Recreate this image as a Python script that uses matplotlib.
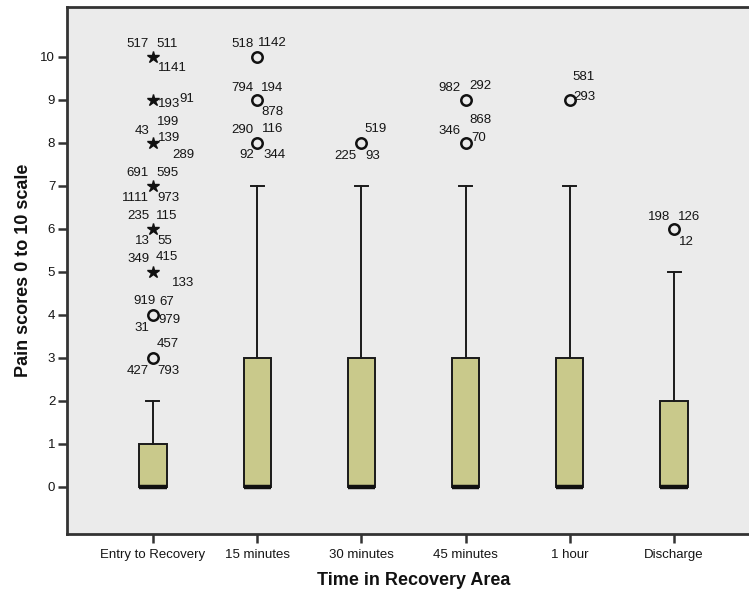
import matplotlib
matplotlib.use("Agg")
import matplotlib.pyplot as plt
import numpy as np

# ---------------- data ----------------
categories = ["Entry to Recovery", "15 minutes", "30 minutes", "45 minutes", "1 hour", "Discharge"]
q1 = [0, 0, 0, 0, 0, 0]
median = [0, 0, 0, 0, 0, 0]
q3 = [1, 3, 3, 3, 3, 2]
whisker_low = [0, 0, 0, 0, 0, 0]
whisker_high = [2, 7, 7, 7, 7, 5]

# outliers (circles) and extremes (stars) per category
outliers = [[3, 4], [8, 9, 10], [8], [8, 9], [9], [6]]
extremes = [[5, 6, 7, 8, 9, 10], [], [], [], [], []]

# case-number labels for each outlier/extreme point (in the order: outliers then extremes)
case_labels = [
    [["427", "793", "457"], ["31", "979", "919", "67"],
     ["349", "415", "133"], ["235", "115", "13", "55"], ["691", "595", "1111", "973"],
     ["199", "43", "139", "289"], ["193", "91"], ["517", "511", "1141"]],
    [["290", "116", "92", "344"], ["794", "194", "878"], ["518", "1142"]],
    [["519", "225", "93"]],
    [["868", "346", "70"], ["982", "292"]],
    [["581", "293"]],
    [["198", "126", "12"]],
]

# ---------------- layout (pixel offsets of labels from their point) ----------------
label_offsets = [
    [[(-15, -13), (15, -13), (15, 14)], [(-11, -13), (16, -5), (-8, 14), (14, 13)],
     [(-14, 13), (14, 15), (30, -11)], [(-15, 13), (14, 13), (-11, -12), (12, -12)],
     [(-15, 13), (14, 13), (-18, -12), (15, -12)],
     [(15, 21), (-11, 12), (16, 5), (30, -12)], [(16, -4), (34, 1)],
     [(-15, 13), (14, 13), (19, -11)]],
    [[(-15, 13), (15, 14), (-10, -12), (17, -12)], [(-15, 12), (15, 12), (15, -12)],
     [(-15, 13), (15, 14)]],
    [[(14, 14), (-16, -13), (11, -13)]],
    [[(15, 23), (-16, 12), (13, 5)], [(-16, 12), (15, 14)]],
    [[(14, 23), (15, 3)]],
    [[(-15, 12), (15, 12), (12, -13)]],
]

plt.rcParams['font.family'] = ['Liberation Sans', 'DejaVu Sans']

W, H = 749, 592
fig = plt.figure(figsize=(W / 100, H / 100), dpi=100)
fig.patch.set_facecolor("white")
ax = fig.add_axes([67 / W, 1 - 534 / H, (760 - 67) / W, (534 - 7) / H])
ax.set_facecolor("#EBEBEB")

positions = np.arange(1, len(categories) + 1)
stats = []
for i in range(len(categories)):
    stats.append(dict(med=median[i], q1=q1[i], q3=q3[i], whislo=whisker_low[i],
                      whishi=whisker_high[i], fliers=[]))

ax.bxp(stats, positions=positions, widths=0.26, patch_artist=True, showfliers=False,
       capwidths=0.125,
       boxprops=dict(facecolor="#C9C98B", edgecolor="#1a1a1a", linewidth=1.4),
       medianprops=dict(color="#111111", linewidth=3.2, solid_capstyle="butt"),
       whiskerprops=dict(color="#1a1a1a", linewidth=1.4),
       capprops=dict(color="#1a1a1a", linewidth=1.4), zorder=3)

for i, pos in enumerate(positions):
    if outliers[i]:
        ax.plot([pos] * len(outliers[i]), outliers[i], linestyle="none", marker="o",
                markersize=7.5, markerfacecolor="none", markeredgecolor="#111111",
                markeredgewidth=1.8, zorder=4)
    if extremes[i]:
        ax.plot([pos] * len(extremes[i]), extremes[i], linestyle="none", marker="*",
                markersize=9, markerfacecolor="#111111", markeredgecolor="#111111",
                zorder=4)
    pts = list(outliers[i]) + list(extremes[i])
    for j, val in enumerate(pts):
        for lab, off in zip(case_labels[i][j], label_offsets[i][j]):
            ax.annotate(lab, xy=(pos, val), xytext=off, textcoords="offset pixels",
                        ha="center", va="center", fontsize=9.5, color="#151515", zorder=5)

ax.set_xlim(1 - 0.825, len(categories) + 0.825)
ax.set_ylim(-1.10, 11.16)
ax.set_yticks(np.arange(0, 11, 1))
ax.set_xticks(positions)
ax.set_xticklabels(categories)

for s in ax.spines.values():
    s.set_color("#333333")
    s.set_linewidth(2)

ax.tick_params(axis="both", direction="out", length=6.5, width=1.8, color="#333333",
               labelsize=9.5, labelcolor="#151515")
ax.tick_params(axis="y", pad=2)
ax.tick_params(axis="x", pad=4)

ax.set_xlabel("Time in Recovery Area", fontsize=13, fontweight="bold", labelpad=8, color="#111111")
ax.set_ylabel("Pain scores 0 to 10 scale", fontsize=13, fontweight="bold", labelpad=6, color="#111111")

fig.savefig("out.png", dpi=100)
